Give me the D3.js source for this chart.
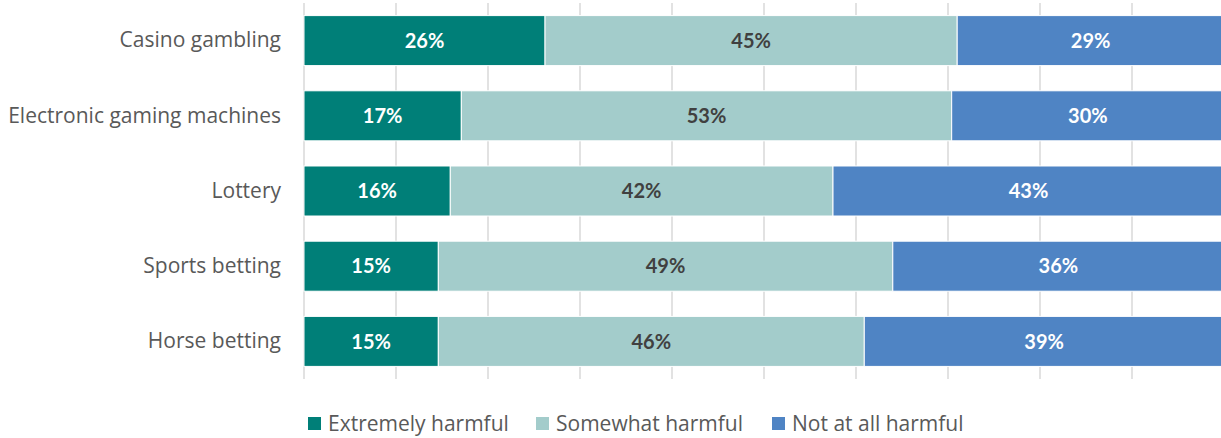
<!DOCTYPE html>
<html><head><meta charset="utf-8">
<script src="https://cdn.jsdelivr.net/npm/d3@7"></script>
<style>body{margin:0;background:#fff}svg{display:block;font-family:Lato,"Open Sans",sans-serif}</style>
</head><body><svg id="c" width="1221" height="438"></svg>
<script>
const categories = ["Casino gambling","Electronic gaming machines","Lottery","Sports betting","Horse betting"];
const seriesNames = ["Extremely harmful","Somewhat harmful","Not at all harmful"];
const extremely = [26.2, 17.1, 15.9, 14.6, 14.6];
const somewhat  = [44.8, 53.3, 41.6, 49.4, 46.3];
const notAtAll  = [29.0, 29.6, 42.6, 36.0, 39.1];
const labelsExtremely = ["26%","17%","16%","15%","15%"];
const labelsSomewhat  = ["45%","53%","42%","49%","46%"];
const labelsNotAtAll  = ["29%","30%","43%","36%","39%"];
const xTicks = [0,10,20,30,40,50,60,70,80,90,100];

const colors = ["#007F78","#A3CCCB","#4F84C4"];
const labelColors = ["#ffffff","#404040","#ffffff"];
const textFont = "'Open Sans',Lato,sans-serif";

const svg = d3.select("#c");
const x = d3.scaleLinear().domain([0,100]).range([304,1224]);
const y = d3.scaleBand().domain(categories).range([3,379]).paddingInner(0.335).paddingOuter(0.1675);

// gridlines
svg.append("g").selectAll("line").data(xTicks).join("line")
  .attr("x1",d=>x(d)).attr("x2",d=>x(d)).attr("y1",3).attr("y2",379)
  .attr("stroke","#d9d9d9").attr("stroke-width",1.5);

const rows = categories.map((c,i)=>({cat:c, Extremely:extremely[i], Somewhat:somewhat[i], Not:notAtAll[i]}));
const keys = ["Extremely","Somewhat","Not"];
const labelArrs = [labelsExtremely, labelsSomewhat, labelsNotAtAll];
const stack = d3.stack().keys(keys)(rows);

stack.forEach((layer,k)=>{
  const g = svg.append("g");
  g.selectAll("rect").data(layer).join("rect")
    .attr("x",d=>x(d[0])).attr("width",d=>x(d[1])-x(d[0]))
    .attr("y",d=>y(d.data.cat)).attr("height",y.bandwidth())
    .attr("fill",colors[k]).attr("stroke","#ffffff").attr("stroke-width",1);
  g.selectAll("text").data(layer).join("text")
    .attr("x",d=>(x(d[0])+x(Math.min(d[1],100)))/2)
    .attr("y",d=>y(d.data.cat)+y.bandwidth()/2)
    .attr("dy","0.36em").attr("text-anchor","middle")
    .attr("font-size",20).attr("font-weight","bold").attr("fill",labelColors[k])
    .text((d,i)=>labelArrs[k][i]);
});

// category axis
const yAxis = d3.axisLeft(y).tickSize(0).tickPadding(23);
const ya = svg.append("g").attr("transform","translate(304,0)").call(yAxis);
ya.select(".domain").remove();
ya.selectAll("text").attr("font-size",21).attr("fill","#595959").attr("font-family",textFont);

// legend
const legX = [308, 536, 772];
const leg = svg.append("g").selectAll("g").data(seriesNames).join("g")
  .attr("transform",(d,i)=>`translate(${legX[i]},417)`);
leg.append("rect").attr("width",13).attr("height",13).attr("fill",(d,i)=>colors[i]);
leg.append("text").attr("x",20).attr("y",6.5).attr("dy","0.36em")
  .attr("font-size",21).attr("font-family",textFont).attr("fill","#595959").text(d=>d);
</script></body></html>
